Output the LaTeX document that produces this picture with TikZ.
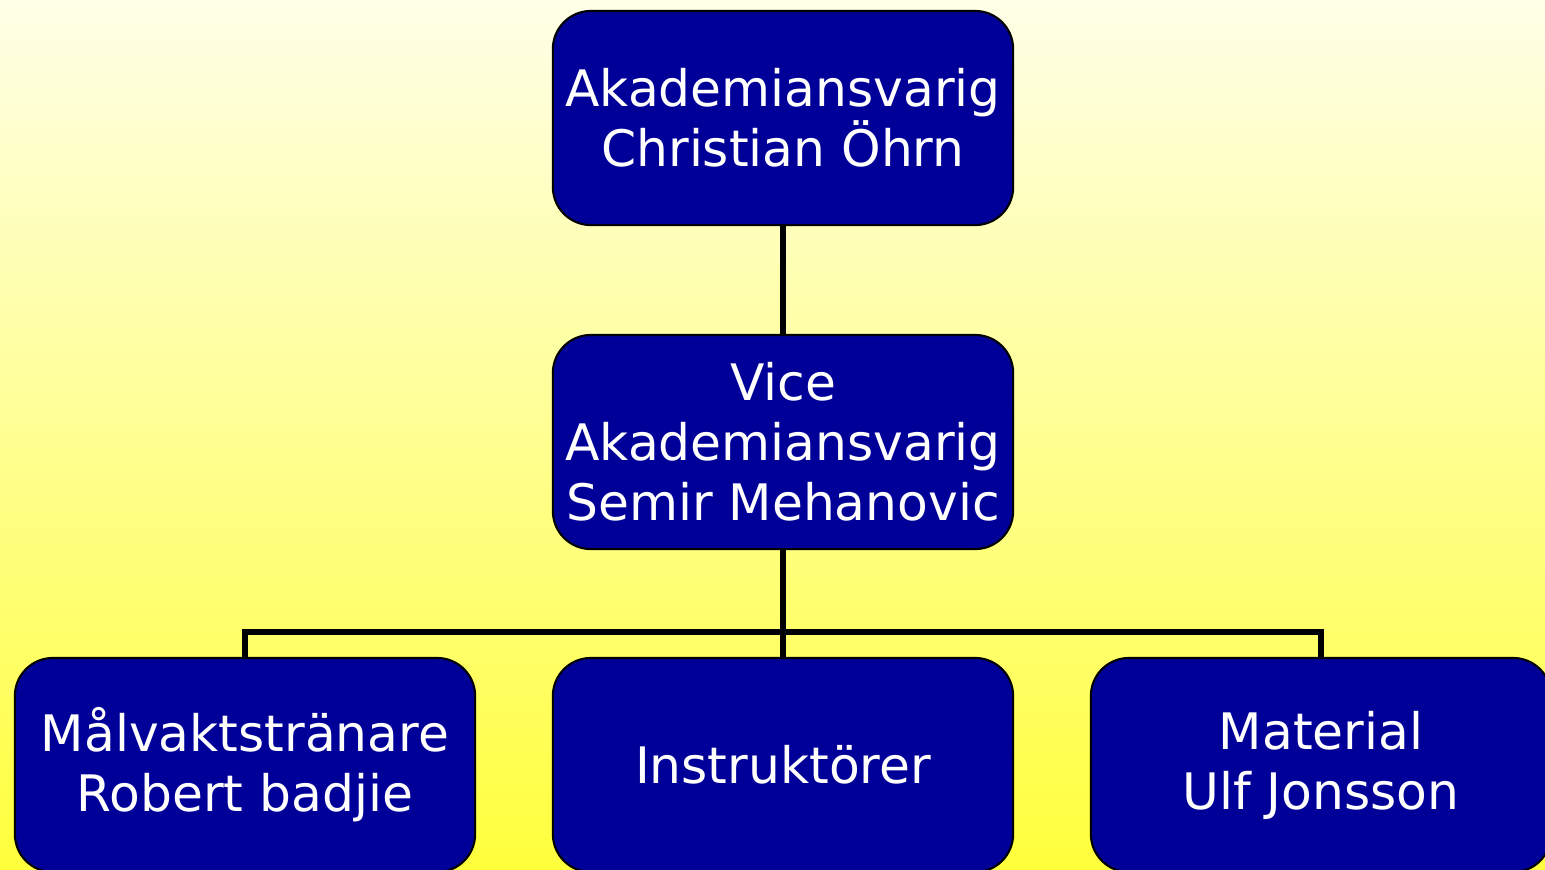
\documentclass[tikz,border=0pt]{standalone}
\usepackage{fontspec}
\setmainfont{DejaVu Sans}
\usetikzlibrary{positioning}
\definecolor{orgblue}{RGB}{0,0,153}
\definecolor{bgtop}{RGB}{255,255,232}
\definecolor{bgbottom}{RGB}{255,255,60}

\begin{document}
\begin{tikzpicture}[x=0.01cm,y=-0.01cm,
  orgbox/.style={draw=black,line width=0.6pt,fill=orgblue,text=white,
    rounded corners=0.38cm,minimum width=4.6cm,minimum height=2.14cm,
    inner sep=0pt,align=center,font=\fontsize{14.3pt}{17.1pt}\selectfont},
  orgline/.style={line width=1.7pt}]
  % Background
  \useasboundingbox (0,0) rectangle (1545,869);
  \shade[top color=bgtop,bottom color=bgbottom] (0,0) rectangle (1545,869);
  \clip (0,0) rectangle (1545,869);
  % Boxes
  \node[orgbox] (akademi) at (783,118) {Akademiansvarig\\Christian Öhrn};
  \node[orgbox] (vice) at (783,442) {Vice\\Akademiansvarig\\Semir Mehanovic};
  \node[orgbox] (malvakt) at (245,765) {Målvaktstränare\\Robert badjie};
  \node[orgbox] (instr) at (783,765) {Instruktörer};
  \node[orgbox] (material) at (1321,765) {Material\\Ulf Jonsson};
  % Connectors
  \coordinate (split) at (783,632);
  \draw[orgline] (akademi) -- (vice);
  \draw[orgline] (vice) -- (split);
  \draw[orgline] (split) -| (malvakt);
  \draw[orgline] (split) -- (instr);
  \draw[orgline] (split) -| (material);
\end{tikzpicture}
\end{document}
